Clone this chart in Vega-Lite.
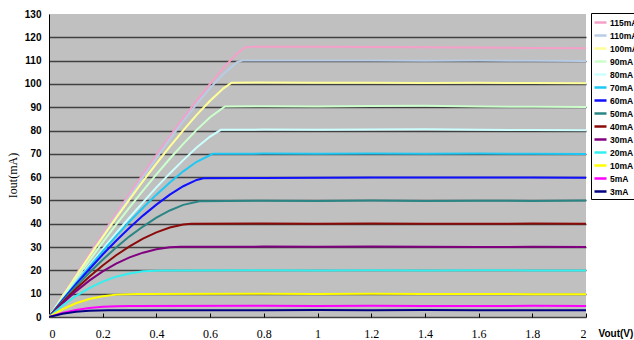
{
"$schema": "https://vega.github.io/schema/vega-lite/v6.json",
"width": 537, "height": 303,
"autosize": {"type": "none"},
"padding": {"left": 49, "top": 14, "right": 48, "bottom": 23},
"background": "#ffffff",
"config": {"view": {"fill": "#c0c0c0", "stroke": null}},
"data": {"values": [
{"s":"115mA","v":0,"i":0},{"s":"115mA","v":0.05,"i":9.1},{"s":"115mA","v":0.1,"i":18.1},{"s":"115mA","v":0.15,"i":27},{"s":"115mA","v":0.2,"i":35.7},{"s":"115mA","v":0.25,"i":44.4},{"s":"115mA","v":0.3,"i":52.9},{"s":"115mA","v":0.35,"i":61.3},{"s":"115mA","v":0.4,"i":69.5},{"s":"115mA","v":0.45,"i":77.5},{"s":"115mA","v":0.5,"i":85.3},{"s":"115mA","v":0.55,"i":92.8},{"s":"115mA","v":0.6,"i":100},{"s":"115mA","v":0.65,"i":106.9},{"s":"115mA","v":0.7,"i":113},{"s":"115mA","v":0.73,"i":115.6},{"s":"115mA","v":0.76,"i":116},{"s":"115mA","v":1,"i":115.9},{"s":"115mA","v":1.2,"i":115.8},{"s":"115mA","v":1.4,"i":115.7},{"s":"115mA","v":1.6,"i":115.6},{"s":"115mA","v":1.8,"i":115.4},{"s":"115mA","v":2,"i":115.3},
{"s":"110mA","v":0,"i":0},{"s":"110mA","v":0.05,"i":8.8},{"s":"110mA","v":0.1,"i":17.6},{"s":"110mA","v":0.15,"i":26.3},{"s":"110mA","v":0.2,"i":34.8},{"s":"110mA","v":0.25,"i":43.3},{"s":"110mA","v":0.3,"i":51.7},{"s":"110mA","v":0.35,"i":60},{"s":"110mA","v":0.4,"i":68.2},{"s":"110mA","v":0.45,"i":76.3},{"s":"110mA","v":0.5,"i":84},{"s":"110mA","v":0.55,"i":91.3},{"s":"110mA","v":0.6,"i":98.2},{"s":"110mA","v":0.65,"i":104.3},{"s":"110mA","v":0.7,"i":109.3},{"s":"110mA","v":0.72,"i":110},{"s":"110mA","v":0.8,"i":110},{"s":"110mA","v":1,"i":110.1},{"s":"110mA","v":1.2,"i":110},{"s":"110mA","v":1.4,"i":109.9},{"s":"110mA","v":1.6,"i":110},{"s":"110mA","v":1.8,"i":109.9},{"s":"110mA","v":2,"i":109.8},
{"s":"100mA","v":0,"i":0},{"s":"100mA","v":0.05,"i":8.8},{"s":"100mA","v":0.1,"i":17.5},{"s":"100mA","v":0.15,"i":26},{"s":"100mA","v":0.2,"i":34.3},{"s":"100mA","v":0.25,"i":42.5},{"s":"100mA","v":0.3,"i":50.5},{"s":"100mA","v":0.35,"i":58.3},{"s":"100mA","v":0.4,"i":65.8},{"s":"100mA","v":0.45,"i":73.1},{"s":"100mA","v":0.5,"i":80.1},{"s":"100mA","v":0.55,"i":86.7},{"s":"100mA","v":0.6,"i":92.8},{"s":"100mA","v":0.65,"i":98.1},{"s":"100mA","v":0.68,"i":100.5},{"s":"100mA","v":0.8,"i":100.6},{"s":"100mA","v":1,"i":100.5},{"s":"100mA","v":1.2,"i":100.5},{"s":"100mA","v":1.4,"i":100.4},{"s":"100mA","v":1.6,"i":100.5},{"s":"100mA","v":1.8,"i":100.4},{"s":"100mA","v":2,"i":100.3},
{"s":"90mA","v":0,"i":0},{"s":"90mA","v":0.05,"i":8.2},{"s":"90mA","v":0.1,"i":16.3},{"s":"90mA","v":0.15,"i":24.2},{"s":"90mA","v":0.2,"i":32},{"s":"90mA","v":0.25,"i":39.6},{"s":"90mA","v":0.3,"i":47},{"s":"90mA","v":0.35,"i":54.2},{"s":"90mA","v":0.4,"i":61.2},{"s":"90mA","v":0.45,"i":67.9},{"s":"90mA","v":0.5,"i":74.3},{"s":"90mA","v":0.55,"i":80.3},{"s":"90mA","v":0.6,"i":85.7},{"s":"90mA","v":0.655,"i":90.3},{"s":"90mA","v":0.8,"i":90.4},{"s":"90mA","v":1,"i":90.3},{"s":"90mA","v":1.2,"i":90.5},{"s":"90mA","v":1.4,"i":90.6},{"s":"90mA","v":1.6,"i":90.3},{"s":"90mA","v":1.8,"i":90.2},{"s":"90mA","v":2,"i":90.1},
{"s":"80mA","v":0,"i":0},{"s":"80mA","v":0.05,"i":7.5},{"s":"80mA","v":0.1,"i":14.8},{"s":"80mA","v":0.15,"i":22},{"s":"80mA","v":0.2,"i":29.1},{"s":"80mA","v":0.25,"i":36},{"s":"80mA","v":0.3,"i":42.7},{"s":"80mA","v":0.35,"i":49.2},{"s":"80mA","v":0.4,"i":55.6},{"s":"80mA","v":0.45,"i":61.6},{"s":"80mA","v":0.5,"i":67.3},{"s":"80mA","v":0.55,"i":72.7},{"s":"80mA","v":0.6,"i":77.4},{"s":"80mA","v":0.64,"i":80.3},{"s":"80mA","v":0.8,"i":80.4},{"s":"80mA","v":1,"i":80.3},{"s":"80mA","v":1.2,"i":80.4},{"s":"80mA","v":1.4,"i":80.5},{"s":"80mA","v":1.6,"i":80.3},{"s":"80mA","v":1.8,"i":80.2},{"s":"80mA","v":2,"i":80.1},
{"s":"70mA","v":0,"i":0},{"s":"70mA","v":0.05,"i":7.4},{"s":"70mA","v":0.1,"i":14.5},{"s":"70mA","v":0.15,"i":21.5},{"s":"70mA","v":0.2,"i":28.2},{"s":"70mA","v":0.25,"i":34.7},{"s":"70mA","v":0.3,"i":41},{"s":"70mA","v":0.35,"i":46.9},{"s":"70mA","v":0.4,"i":52.5},{"s":"70mA","v":0.45,"i":57.7},{"s":"70mA","v":0.5,"i":62.5},{"s":"70mA","v":0.55,"i":66.6},{"s":"70mA","v":0.61,"i":70},{"s":"70mA","v":0.8,"i":70.1},{"s":"70mA","v":1,"i":70},{"s":"70mA","v":1.2,"i":70.1},{"s":"70mA","v":1.4,"i":70},{"s":"70mA","v":1.6,"i":70.1},{"s":"70mA","v":1.8,"i":70},{"s":"70mA","v":2,"i":69.9},
{"s":"60mA","v":0,"i":0},{"s":"60mA","v":0.05,"i":7.1},{"s":"60mA","v":0.1,"i":14},{"s":"60mA","v":0.15,"i":20.5},{"s":"60mA","v":0.2,"i":26.8},{"s":"60mA","v":0.25,"i":32.7},{"s":"60mA","v":0.3,"i":38.3},{"s":"60mA","v":0.35,"i":43.5},{"s":"60mA","v":0.4,"i":48.2},{"s":"60mA","v":0.45,"i":52.5},{"s":"60mA","v":0.5,"i":56.1},{"s":"60mA","v":0.55,"i":58.8},{"s":"60mA","v":0.575,"i":59.5},{"s":"60mA","v":0.8,"i":59.6},{"s":"60mA","v":1,"i":59.7},{"s":"60mA","v":1.2,"i":59.8},{"s":"60mA","v":1.4,"i":59.8},{"s":"60mA","v":1.6,"i":59.9},{"s":"60mA","v":1.8,"i":59.8},{"s":"60mA","v":2,"i":59.7},
{"s":"50mA","v":0,"i":0},{"s":"50mA","v":0.05,"i":6.7},{"s":"50mA","v":0.1,"i":13.1},{"s":"50mA","v":0.15,"i":19},{"s":"50mA","v":0.2,"i":24.6},{"s":"50mA","v":0.25,"i":29.8},{"s":"50mA","v":0.3,"i":34.6},{"s":"50mA","v":0.35,"i":38.8},{"s":"50mA","v":0.4,"i":42.6},{"s":"50mA","v":0.45,"i":45.7},{"s":"50mA","v":0.5,"i":48.1},{"s":"50mA","v":0.56,"i":49.7},{"s":"50mA","v":0.8,"i":49.9},{"s":"50mA","v":1,"i":49.8},{"s":"50mA","v":1.2,"i":50},{"s":"50mA","v":1.4,"i":49.8},{"s":"50mA","v":1.6,"i":49.9},{"s":"50mA","v":1.8,"i":49.8},{"s":"50mA","v":2,"i":50},
{"s":"40mA","v":0,"i":0},{"s":"40mA","v":0.05,"i":6.2},{"s":"40mA","v":0.1,"i":12},{"s":"40mA","v":0.15,"i":17.3},{"s":"40mA","v":0.2,"i":22.1},{"s":"40mA","v":0.25,"i":26.5},{"s":"40mA","v":0.3,"i":30.3},{"s":"40mA","v":0.35,"i":33.6},{"s":"40mA","v":0.4,"i":36.3},{"s":"40mA","v":0.45,"i":38.4},{"s":"40mA","v":0.5,"i":39.7},{"s":"40mA","v":0.53,"i":40},{"s":"40mA","v":0.8,"i":40.1},{"s":"40mA","v":1,"i":40},{"s":"40mA","v":1.2,"i":40.1},{"s":"40mA","v":1.4,"i":40},{"s":"40mA","v":1.6,"i":40},{"s":"40mA","v":1.8,"i":40.1},{"s":"40mA","v":2,"i":40},
{"s":"30mA","v":0,"i":0},{"s":"30mA","v":0.05,"i":5.8},{"s":"30mA","v":0.1,"i":11},{"s":"30mA","v":0.15,"i":15.6},{"s":"30mA","v":0.2,"i":19.6},{"s":"30mA","v":0.25,"i":22.9},{"s":"30mA","v":0.3,"i":25.6},{"s":"30mA","v":0.35,"i":27.6},{"s":"30mA","v":0.4,"i":29.1},{"s":"30mA","v":0.45,"i":29.9},{"s":"30mA","v":0.49,"i":30.1},{"s":"30mA","v":0.8,"i":30.2},{"s":"30mA","v":1,"i":30.1},{"s":"30mA","v":1.2,"i":30.2},{"s":"30mA","v":1.4,"i":30.1},{"s":"30mA","v":1.6,"i":30},{"s":"30mA","v":1.8,"i":30.1},{"s":"30mA","v":2,"i":30},
{"s":"20mA","v":0,"i":0},{"s":"20mA","v":0.05,"i":4.9},{"s":"20mA","v":0.1,"i":9},{"s":"20mA","v":0.15,"i":12.4},{"s":"20mA","v":0.2,"i":15.2},{"s":"20mA","v":0.25,"i":17.3},{"s":"20mA","v":0.3,"i":18.7},{"s":"20mA","v":0.35,"i":19.6},{"s":"20mA","v":0.42,"i":20},{"s":"20mA","v":0.8,"i":20.1},{"s":"20mA","v":1,"i":20},{"s":"20mA","v":1.2,"i":20.1},{"s":"20mA","v":1.4,"i":20},{"s":"20mA","v":1.6,"i":20.1},{"s":"20mA","v":1.8,"i":20},{"s":"20mA","v":2,"i":19.9},
{"s":"10mA","v":0,"i":0},{"s":"10mA","v":0.05,"i":3.3},{"s":"10mA","v":0.1,"i":5.9},{"s":"10mA","v":0.15,"i":7.7},{"s":"10mA","v":0.2,"i":8.9},{"s":"10mA","v":0.25,"i":9.6},{"s":"10mA","v":0.33,"i":9.9},{"s":"10mA","v":0.8,"i":10},{"s":"10mA","v":1,"i":9.9},{"s":"10mA","v":1.2,"i":10},{"s":"10mA","v":1.4,"i":9.9},{"s":"10mA","v":1.6,"i":9.9},{"s":"10mA","v":1.8,"i":9.8},{"s":"10mA","v":2,"i":9.8},
{"s":"5mA","v":0,"i":0},{"s":"5mA","v":0.05,"i":1.7},{"s":"5mA","v":0.1,"i":3},{"s":"5mA","v":0.15,"i":3.9},{"s":"5mA","v":0.2,"i":4.4},{"s":"5mA","v":0.25,"i":4.65},{"s":"5mA","v":0.3,"i":4.7},{"s":"5mA","v":0.8,"i":4.8},{"s":"5mA","v":1,"i":4.7},{"s":"5mA","v":1.2,"i":4.8},{"s":"5mA","v":1.4,"i":4.7},{"s":"5mA","v":1.6,"i":4.7},{"s":"5mA","v":1.8,"i":4.8},{"s":"5mA","v":2,"i":4.7},
{"s":"3mA","v":0,"i":0},{"s":"3mA","v":0.05,"i":1.4},{"s":"3mA","v":0.1,"i":2.3},{"s":"3mA","v":0.15,"i":2.7},{"s":"3mA","v":0.22,"i":2.9},{"s":"3mA","v":0.8,"i":2.9},{"s":"3mA","v":1,"i":3},{"s":"3mA","v":1.2,"i":2.9},{"s":"3mA","v":1.4,"i":3},{"s":"3mA","v":1.6,"i":2.9},{"s":"3mA","v":1.8,"i":2.9},{"s":"3mA","v":2,"i":2.9}
]},
"mark": {"type": "line", "strokeWidth": 2, "clip": true},
"encoding": {
  "x": {"field": "v", "type": "quantitative",
    "scale": {"domain": [0, 2], "nice": false},
    "axis": {"values": [0,0.2,0.4,0.6,0.8,1,1.2,1.4,1.6,1.8,2], "format": "~g", "grid": false, "domain": false,
      "tickSize": -4, "tickColor": "#000000", "labelFont": "Liberation Serif", "labelFontSize": 12, "labelColor": "#000000", "labelPadding": 15,
      "title": "Vout(V)", "titleX": 549, "titleY": 16, "titleAlign": "left", "titleBaseline": "middle",
      "titleFont": "Liberation Sans", "titleFontWeight": "bold", "titleFontSize": 10, "titleColor": "#000000"}},
  "y": {"field": "i", "type": "quantitative",
    "scale": {"domain": [0, 130], "nice": false},
    "axis": {"values": [0,10,20,30,40,50,60,70,80,90,100,110,120,130], "grid": true,
      "gridColor": {"condition": {"test": "datum.value === 130", "value": "transparent"}, "value": "#404040"}, "gridWidth": 1.3,
      "domain": true, "domainColor": "#000000", "ticks": false, "labelPadding": 8,
      "labelFont": "Liberation Sans", "labelFontWeight": "bold", "labelFontSize": 10, "labelColor": "#000000",
      "title": "Iout(mA)", "titleX": -37, "titleY": 161, "titleAngle": -90, "titleAlign": "center", "titleBaseline": "middle",
      "titleFont": "Liberation Serif", "titleFontWeight": "normal", "titleFontSize": 12, "titleColor": "#000000"}},
  "color": {"field": "s", "type": "nominal",
    "scale": {"domain": ["115mA","110mA","100mA","90mA","80mA","70mA","60mA","50mA","40mA","30mA","20mA","10mA","5mA","3mA"],
      "range": ["#f4a0c8","#b8cce6","#ffff99","#ccffcc","#ccffff","#1ec8f5","#1010ff","#2a8585","#8b0a0a","#800080","#33f0f0","#ffff00","#ff00ff","#000080"]},
    "legend": {"orient": "none", "legendX": 542, "legendY": -1, "title": null, "symbolType": "stroke", "symbolSize": 144, "symbolStrokeWidth": 2.5,
      "labelFont": "Liberation Sans", "labelFontWeight": "bold", "labelFontSize": 8.5, "labelColor": "#000000", "labelOffset": 2,
      "strokeColor": "#000000", "fillColor": "#ffffff", "padding": 2, "rowPadding": -0.8, "labelLimit": 100}}
}
}
